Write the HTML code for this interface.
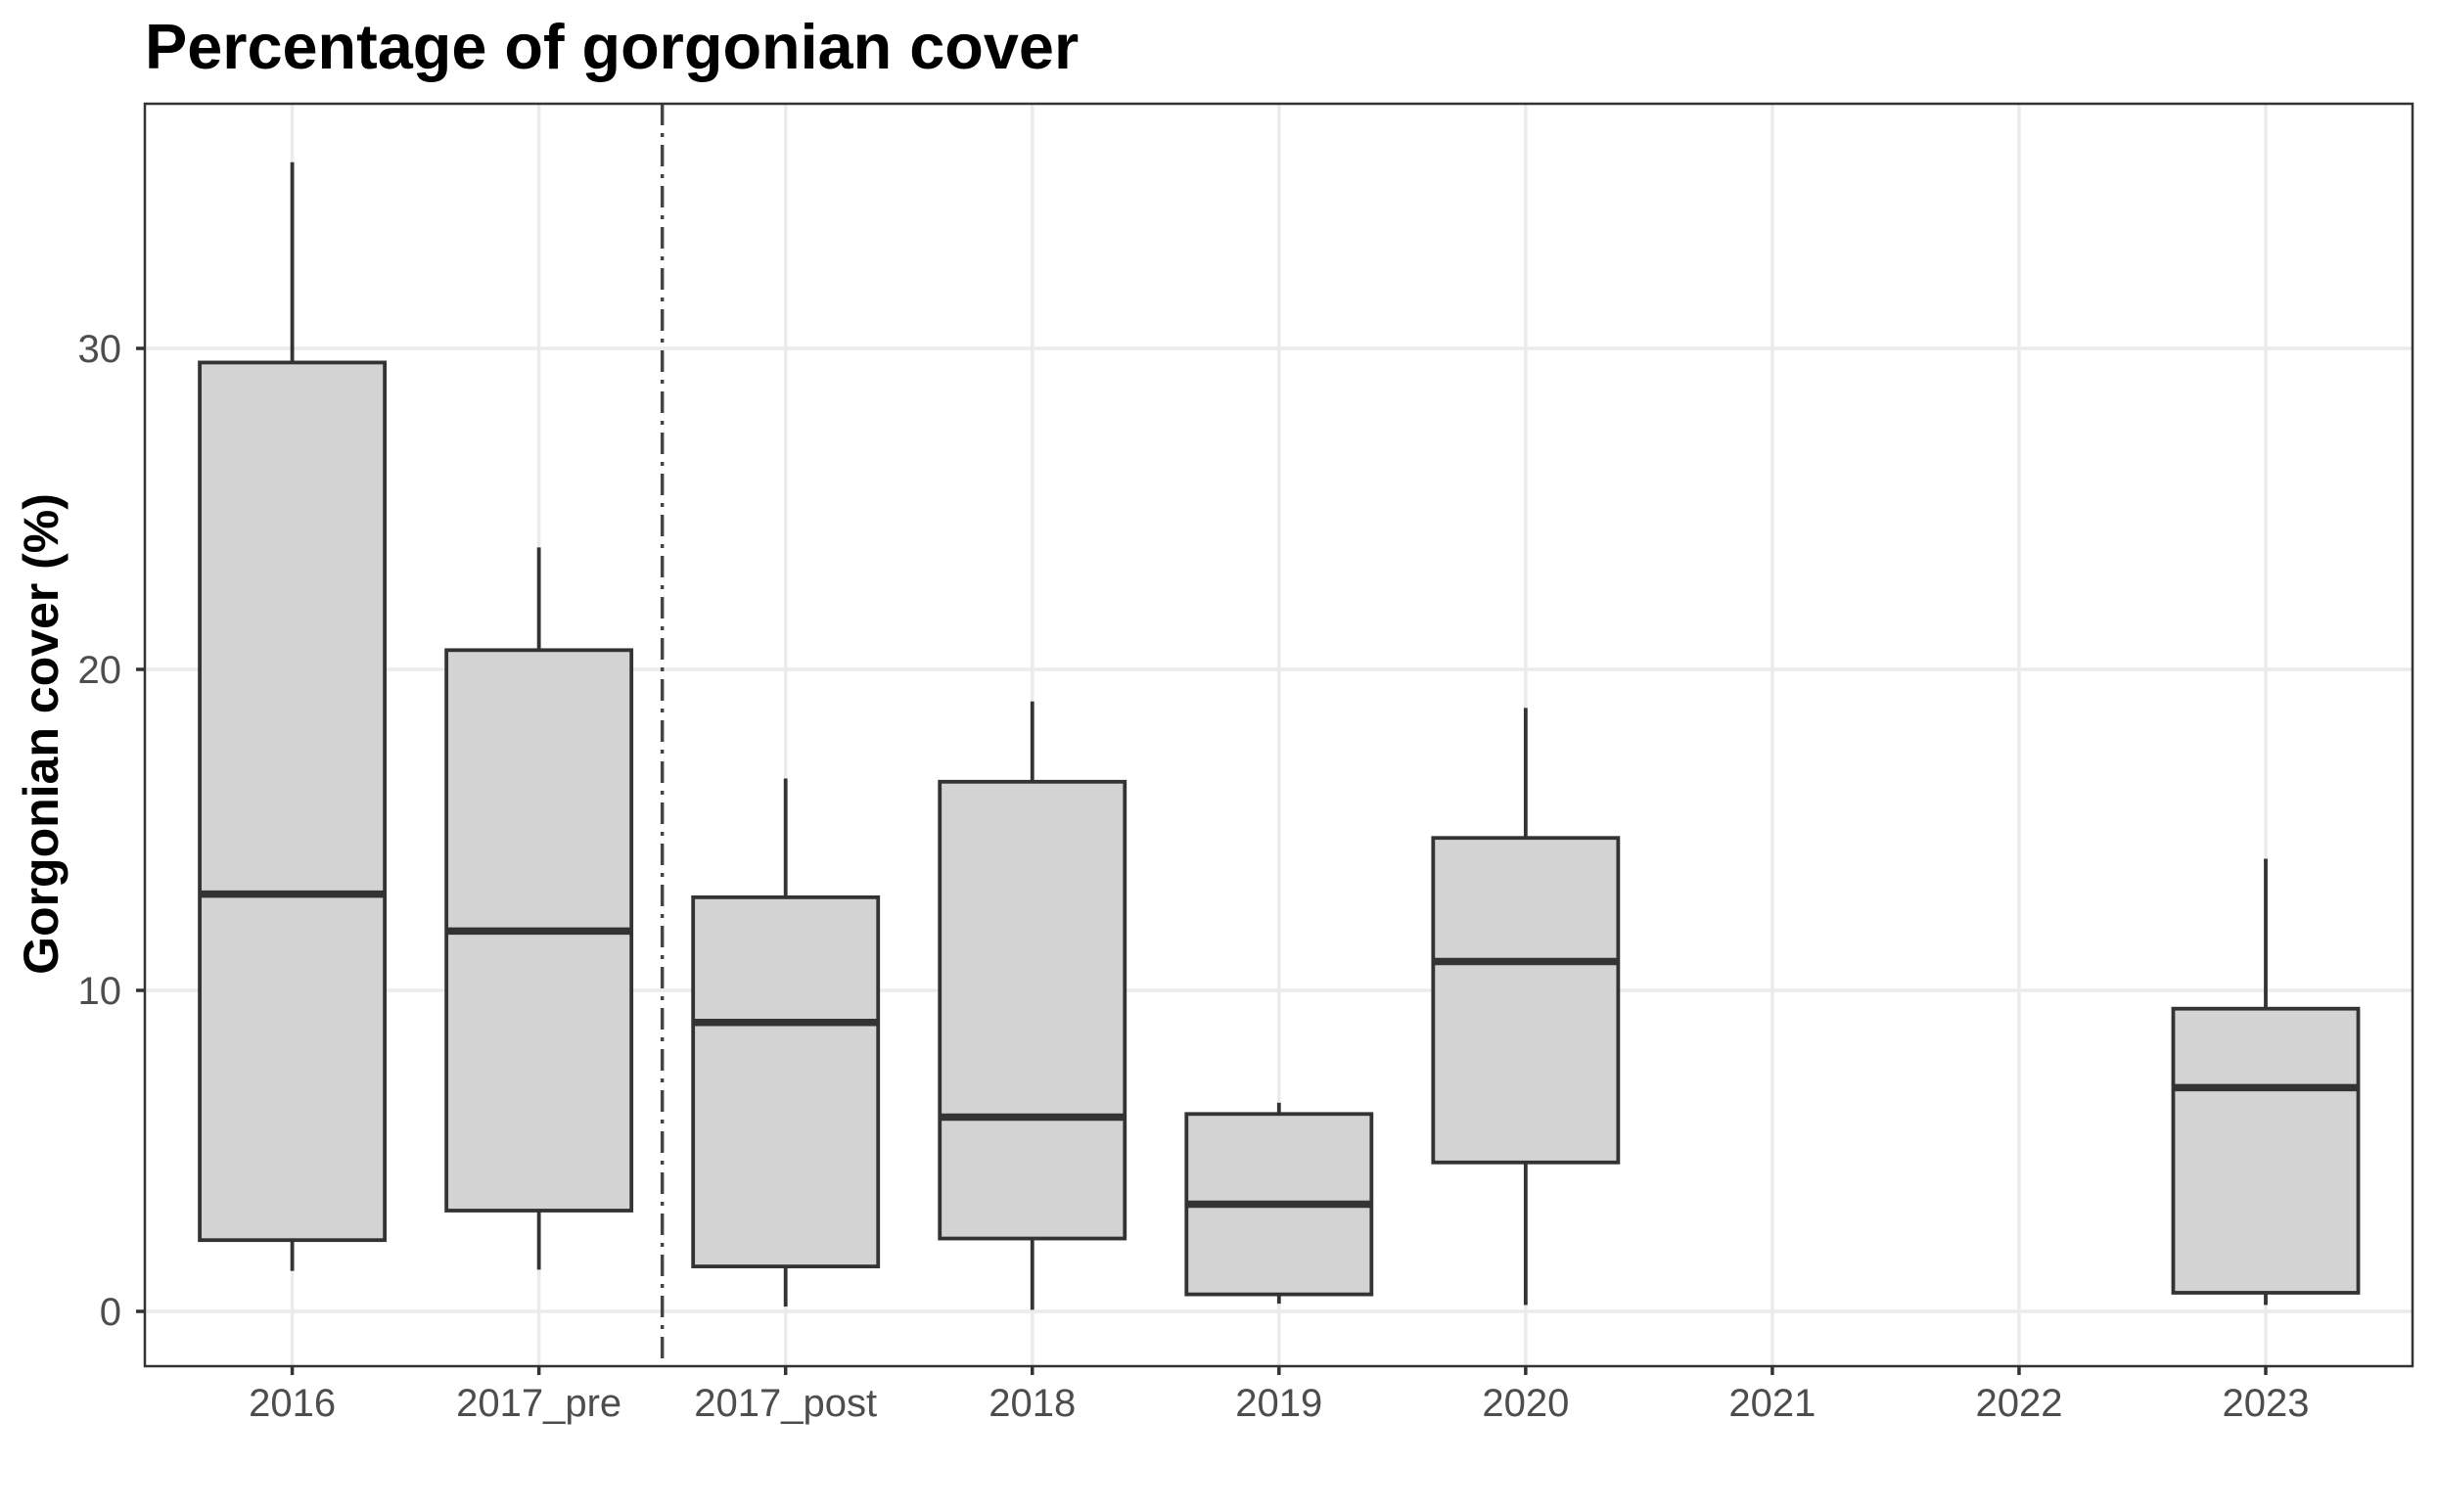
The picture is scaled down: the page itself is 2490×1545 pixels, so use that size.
<!DOCTYPE html>
<html><head><meta charset="utf-8"><style>
body{margin:0;background:#fff}
svg text{font-family:"Liberation Sans",Arial,sans-serif}
</style></head><body>
<svg id="chart" width="2490" height="1540" xmlns="http://www.w3.org/2000/svg">
<rect x="0" y="0" width="2490" height="1540" fill="#fff"/>
<text x="148" y="70" font-size="64.8" font-weight="bold" fill="#000">Percentage of gorgonian cover</text>
<g id="grid"></g><g id="marks"></g><g id="axes"></g>
<text transform="translate(59,750) rotate(-90)" text-anchor="middle" font-size="50" font-weight="bold" fill="#000">Gorgonian cover (%)</text>
</svg>
<script>
const categories=["2016","2017_pre","2017_post","2018","2019","2020","2021","2022","2023"];
const mins=[1.26,1.3,0.15,0.05,0.24,0.2,null,null,0.2];
const q1s=[2.22,3.14,1.4,2.27,0.53,4.64,null,null,0.58];
const medians=[13.0,11.85,9.0,6.05,3.34,10.9,null,null,6.97];
const q3s=[29.56,20.6,12.9,16.5,6.15,14.75,null,null,9.43];
const maxs=[35.8,23.8,16.6,19.0,6.5,18.8,null,null,14.1];
const yTicks=[0,10,20,30];
const L=148,T=106,R=2465,B=1396;
const x0=298.6,step=252.05;
const xs=i=>x0+i*step;
const ys=v=>1340-v*32.8;
const NS="http://www.w3.org/2000/svg";
function mk(p,tag,a){const e=document.createElementNS(NS,tag);for(const k in a)e.setAttribute(k,a[k]);p.appendChild(e);return e;}
const grid=document.getElementById('grid'),marks=document.getElementById('marks'),axes=document.getElementById('axes');
mk(grid,'rect',{x:L,y:T,width:R-L,height:B-T,fill:'#fff'});
yTicks.forEach(v=>{const l=mk(grid,'line',{x1:L,x2:R,y1:ys(v),y2:ys(v),stroke:'#ebebeb','stroke-width':3.5});

});
categories.forEach((c,i)=>{const l=mk(grid,'line',{x1:xs(i),x2:xs(i),y1:T,y2:B,stroke:'#ebebeb','stroke-width':3.5});

});
const bw=step*0.75;
categories.forEach((c,i)=>{
 if(medians[i]==null)return;
 const g=mk(marks,'g',{});
 
 
 const x=xs(i);
 mk(g,'line',{x1:x,x2:x,y1:ys(maxs[i]),y2:ys(q3s[i]),stroke:'#333','stroke-width':3.8});
 mk(g,'line',{x1:x,x2:x,y1:ys(q1s[i]),y2:ys(mins[i]),stroke:'#333','stroke-width':3.8});
 mk(g,'rect',{x:x-bw/2,y:ys(q3s[i]),width:bw,height:ys(q1s[i])-ys(q3s[i]),fill:'#d3d3d3',stroke:'#333','stroke-width':3.8});
 mk(g,'line',{x1:x-bw/2,x2:x+bw/2,y1:ys(medians[i]),y2:ys(medians[i]),stroke:'#333','stroke-width':7.5});
});
const d=mk(marks,'line',{x1:(xs(1)+xs(2))/2,x2:(xs(1)+xs(2))/2,y1:T,y2:B,stroke:'#444','stroke-width':3.5,'stroke-dasharray':'22 8 4 8'});


const br=mk(axes,'rect',{x:L,y:T,width:R-L,height:B-T,fill:'none',stroke:'#333','stroke-width':2.5});


yTicks.forEach(v=>{mk(axes,'line',{x1:L-9,x2:L,y1:ys(v),y2:ys(v),stroke:'#333','stroke-width':3.5});
 const t=mk(axes,'text',{x:124,y:ys(v)+14,'text-anchor':'end','font-size':40,fill:'#4d4d4d'});t.textContent=v;
 
 });
categories.forEach((c,i)=>{mk(axes,'line',{x1:xs(i),x2:xs(i),y1:B,y2:B+9,stroke:'#333','stroke-width':3.5});
 const t=mk(axes,'text',{x:xs(i),y:1447,'text-anchor':'middle','font-size':40,fill:'#4d4d4d'});t.textContent=c;
 
 });
</script>
</body></html>
